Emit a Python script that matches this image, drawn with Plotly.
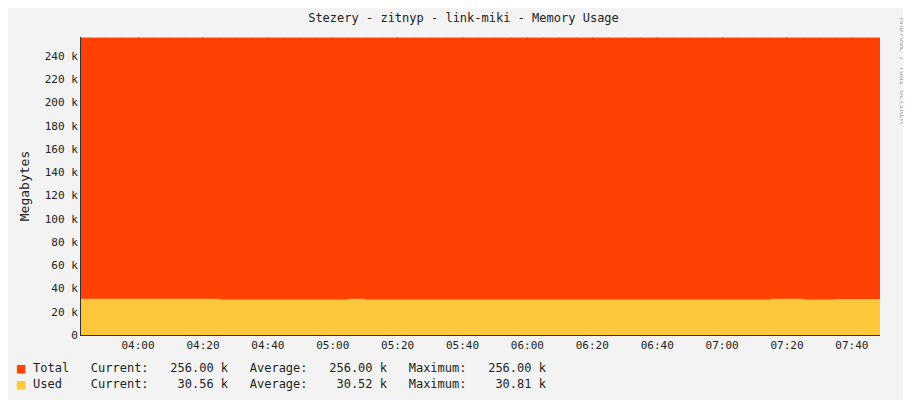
import plotly.graph_objects as go
import pandas as pd

times = pd.date_range("2024-01-01 03:40", "2024-01-01 07:50", freq="5min")
used = [31.3]*9 + [30.6]*8 + [31.2] + [30.5]*25 + [31.2]*2 + [30.6]*2 + [31.0]*4
used = used[:len(times)] + [31.0]*(len(times)-len(used))
total = [256.0]*len(times)
ytick_vals = list(range(0, 241, 20))
ytick_text = ["0"] + [f"{v} k" for v in ytick_vals[1:]]
legend_rows = [("Total", "#FF4105", "Current:   256.00 k   Average:   256.00 k   Maximum:   256.00 k"),
               ("Used", "#FFC73B", "Current:    30.56 k   Average:    30.52 k   Maximum:    30.81 k")]

mono = "DejaVu Sans Mono"
fig = go.Figure()
fig.add_trace(go.Scatter(x=times, y=total, mode="lines", line=dict(width=0, shape="hv"),
                         fill="tozeroy", fillcolor="#FF4105", hoverinfo="skip"))
fig.add_trace(go.Scatter(x=times, y=used, mode="lines", line=dict(width=0, shape="hv"),
                         fill="tozeroy", fillcolor="#FFC73B", hoverinfo="skip"))
fig.update_layout(
    width=911, height=400, margin=dict(l=73, r=39, t=29, b=73),
    paper_bgcolor="#F3F3F3", plot_bgcolor="white", showlegend=False,
    font=dict(family=mono, size=11, color="#222"),
    title=dict(text="Stezery - zitnyp - link-miki - Memory Usage", x=0.5, y=0.985,
               xanchor="center", font=dict(size=12)),
    xaxis=dict(range=["2024-01-01 03:42:25", "2024-01-01 07:48:40"], tickformat="%H:%M",
               dtick=20*60*1000, tick0="2024-01-01 04:00", showgrid=True,
               gridcolor="rgba(200,80,80,0.45)", griddash="dot", ticks="",
               showline=True, linecolor="#333", zeroline=False,
               minor=dict(dtick=5*60*1000, showgrid=True, gridcolor="rgba(150,150,150,0.3)", griddash="dot"),
               layer="above traces"),
    yaxis=dict(range=[0, 256.5], tickvals=ytick_vals, ticktext=ytick_text, showgrid=True,
               gridcolor="rgba(200,80,80,0.45)", griddash="dot", ticks="",
               showline=True, linecolor="#333", zeroline=False,
               minor=dict(dtick=10, showgrid=True, gridcolor="rgba(150,150,150,0.3)", griddash="dot"),
               title=dict(text="Megabytes", standoff=12), layer="above traces"),
)
for i, (name, col, txt) in enumerate(legend_rows):
    y = -0.111 - i*0.054
    fig.add_annotation(xref="paper", yref="paper", x=-0.082, y=y, xanchor="left", yanchor="middle",
                       text="■", showarrow=False, font=dict(size=14, color=col))
    fig.add_annotation(xref="paper", yref="paper", x=-0.062, y=y, xanchor="left", yanchor="middle",
                       text=f"{name:<8}{txt}".replace(" ", "&nbsp;"), showarrow=False, font=dict(size=12))
fig.add_annotation(xref="paper", yref="paper", x=1.029, y=1.07, xanchor="center", yanchor="top",
                   text="RRDTOOL / TOBI OETIKER", textangle=90, showarrow=False,
                   font=dict(size=8, color="#aaa"))
fig.write_html("out.html")
